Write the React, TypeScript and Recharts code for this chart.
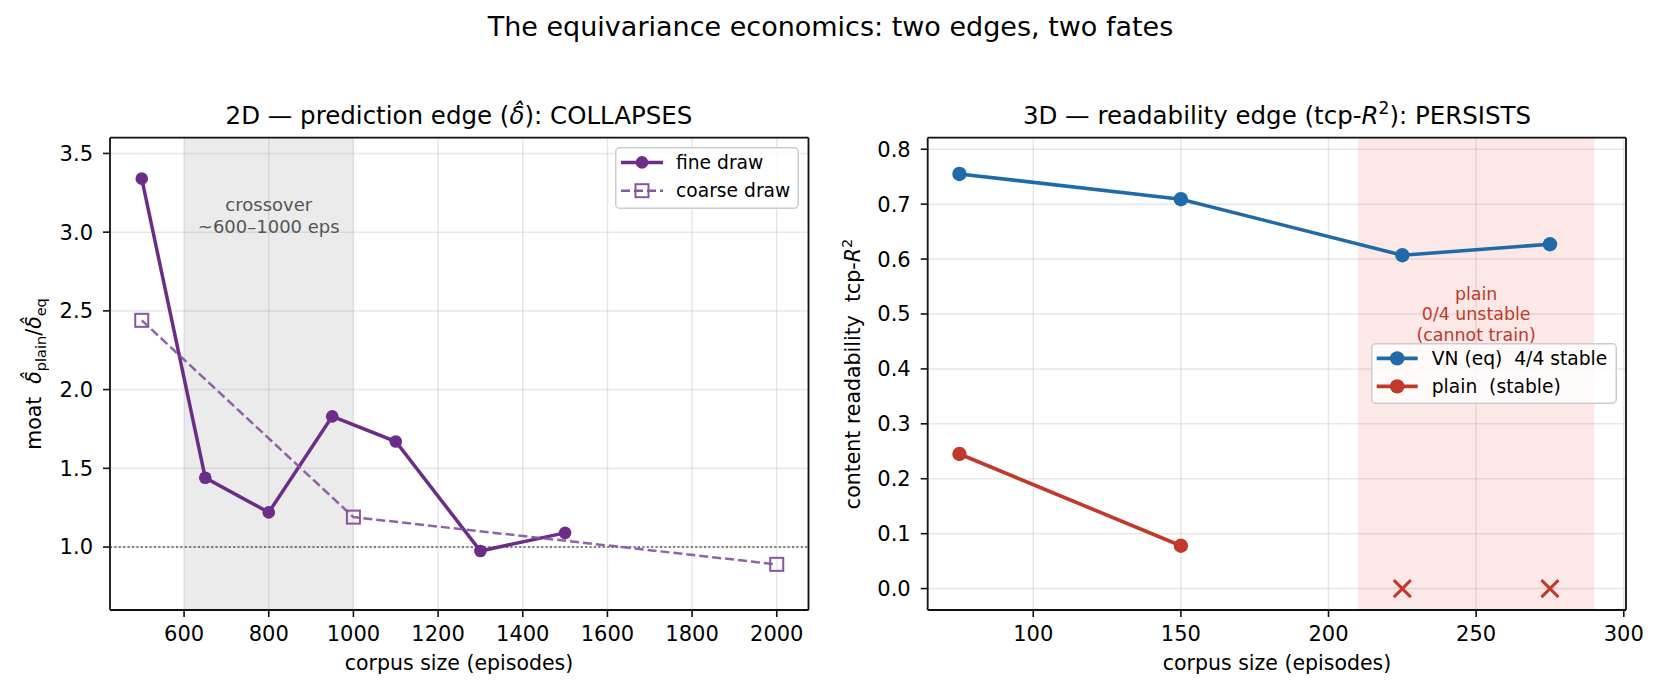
import React from 'react';
import {
  ComposedChart,
  Line,
  XAxis,
  YAxis,
  CartesianGrid,
  ReferenceArea,
  ReferenceLine,
  ReferenceDot,
  Legend,
} from 'recharts';

const FONT = '"DejaVu Sans", "Liberation Sans", sans-serif';

// ---- 2D panel: prediction edge ----
const fineSizes = [500, 650, 800, 950, 1100, 1300, 1500];
const fineMoat = [3.34, 1.44, 1.22, 1.83, 1.67, 0.975, 1.09];
const coarseSizes = [500, 1000, 2000];
const coarseMoat = [2.44, 1.19, 0.89];
const crossoverRange = [600, 1000];
const crossoverNoteAt = [800, 3.1];
const crossoverLines = ['crossover', '~600\u20131000 eps'];
const parityLevel = 1.0;
const xTicks2D = [600, 800, 1000, 1200, 1400, 1600, 1800, 2000];
const yTicks2D = [1.0, 1.5, 2.0, 2.5, 3.0, 3.5];
const xDomain2D = [425, 2075];
const yDomain2D = [0.6, 3.6];

// ---- 3D panel: readability edge ----
const vnSizes = [75, 150, 225, 275];
const vnR2 = [0.755, 0.709, 0.607, 0.627];
const plainSizes = [75, 150];
const plainR2 = [0.245, 0.078];
const unstableSizes = [225, 275];
const unstableR2 = [0, 0];
const unstableRange = [210, 290];
const unstableNoteAt = [250, 0.5];
const unstableLines = ['plain', '0/4 unstable', '(cannot train)'];
const xTicks3D = [100, 150, 200, 250, 300];
const yTicks3D = [0.0, 0.1, 0.2, 0.3, 0.4, 0.5, 0.6, 0.7, 0.8];
const xDomain3D = [64.25, 300.75];
const yDomain3D = [-0.039, 0.821];

const FINE = '#6b2d87';
const COARSE = '#8656a1';
const BLUE = '#1f6aa7';
const RED = '#c0392b';

const TICK_FS = 21;
const LABEL_FS = 20.5;
const LEGEND_FS = 18.7;
const NOTE_FS = 18;

const toPts = (xs: number[], ys: number[]) => xs.map((x, i) => ({ x, y: ys[i] }));

const fineData = toPts(fineSizes, fineMoat);
const coarseData = toPts(coarseSizes, coarseMoat);
const vnData = toPts(vnSizes, vnR2);
const plainData = toPts(plainSizes, plainR2);
const unstableData = toPts(unstableSizes, unstableR2);

const tickStyle = { fill: '#000', fontSize: TICK_FS, fontFamily: FONT };
const SPINE = '#111111';
const axisLineStyle = { stroke: SPINE, strokeWidth: 1.8 };
const tickLineStyle = { stroke: SPINE, strokeWidth: 1.6 };

const squareDot = (p: any) => (
  <rect
    key={`sq-${p.index}`}
    x={p.cx - 6.5}
    y={p.cy - 6.5}
    width={13}
    height={13}
    fill="none"
    stroke={COARSE}
    strokeWidth={2}
  />
);

const crossDot = (p: any) => (
  <g key={`x-${p.index}`}>
    <line x1={p.cx - 8.5} y1={p.cy - 8.5} x2={p.cx + 8.5} y2={p.cy + 8.5} stroke={RED} strokeWidth={3} />
    <line x1={p.cx - 8.5} y1={p.cy + 8.5} x2={p.cx + 8.5} y2={p.cy - 8.5} stroke={RED} strokeWidth={3} />
  </g>
);

const multiLineNote = (lines: string[], color: string, fontSize: number, firstOffset: number, step: number) =>
  (props: any) => {
    const vb = props.viewBox || {};
    const cx = (vb.x ?? 0) + (vb.width ?? 0) / 2;
    const cy = (vb.y ?? 0) + (vb.height ?? 0) / 2;
    return (
      <text textAnchor="middle" fill={color} fontSize={fontSize} fontFamily={FONT}>
        {lines.map((s, i) => (
          <tspan key={i} x={cx} y={cy + firstOffset + i * step}>
            {s}
          </tspan>
        ))}
      </text>
    );
  };

type LegendEntry = { label: string; color: string; kind: 'circle' | 'square'; dashed?: boolean; width: number; r: number };

const LegendBox = ({ w, h, entries, rowY, lineX, textX }: { w: number; h: number; entries: LegendEntry[]; rowY: number[]; lineX: [number, number]; textX: number }) => (
  <svg width={w} height={h} style={{ display: 'block', overflow: 'visible' }}>
    <rect x={0.75} y={0.75} width={w - 1.5} height={h - 1.5} rx={4} ry={4} fill="#ffffff" fillOpacity={0.82} stroke="#cccccc" strokeWidth={1.5} />
    {entries.map((e, i) => {
      const y = rowY[i];
      const mid = (lineX[0] + lineX[1]) / 2;
      return (
        <g key={e.label}>
          <line x1={lineX[0]} x2={lineX[1]} y1={y} y2={y} stroke={e.color} strokeWidth={e.width} strokeDasharray={e.dashed ? '9 4' : undefined} />
          {e.kind === 'circle' ? (
            <circle cx={mid} cy={y} r={e.r} fill={e.color} />
          ) : (
            <rect x={mid - 6.5} y={y - 6.5} width={13} height={13} fill="none" stroke={e.color} strokeWidth={2} />
          )}
          <text x={textX} y={y + 6.6} fontSize={LEGEND_FS} fontFamily={FONT} fill="#000" style={{ whiteSpace: 'pre' }}>
            {e.label}
          </text>
        </g>
      );
    })}
  </svg>
);

const legend2D: LegendEntry[] = [
  { label: 'fine draw', color: FINE, kind: 'circle', width: 3.5, r: 6.3 },
  { label: 'coarse draw', color: COARSE, kind: 'square', dashed: true, width: 2.5, r: 6 },
];
const legend3D: LegendEntry[] = [
  { label: 'VN (eq)  4/4 stable', color: BLUE, kind: 'circle', width: 3.6, r: 7.2 },
  { label: 'plain  (stable)', color: RED, kind: 'circle', width: 3.6, r: 7.2 },
];

function PredictionPanel() {
  return (
    <ComposedChart width={830} height={691} margin={{ top: 137.7, right: 21.5, bottom: 41, left: 0 }} style={{ fontFamily: FONT }}>
      <CartesianGrid stroke="#b0b0b0" strokeOpacity={0.3} strokeWidth={1.5} />
      <ReferenceArea x1={crossoverRange[0]} x2={crossoverRange[1]} fill="#808080" fillOpacity={0.16} stroke="none" ifOverflow="hidden" />
      <ReferenceLine y={parityLevel} stroke="#555" strokeWidth={1.6} strokeDasharray="2 2.4" />
      <XAxis
        dataKey="x"
        type="number"
        domain={xDomain2D}
        allowDataOverflow
        ticks={xTicks2D}
        interval={0}
        height={40}
        tick={tickStyle}
        tickSize={7}
        tickMargin={9}
        axisLine={axisLineStyle}
        tickLine={tickLineStyle}
      />
      <YAxis
        type="number"
        domain={yDomain2D}
        allowDataOverflow
        ticks={yTicks2D}
        interval={0}
        width={110}
        tick={tickStyle}
        tickSize={7}
        tickMargin={10}
        tickFormatter={(v: number) => v.toFixed(1)}
        axisLine={axisLineStyle}
        tickLine={tickLineStyle}
      />
      <ReferenceDot
        x={crossoverNoteAt[0]}
        y={crossoverNoteAt[1]}
        r={1}
        fill="none"
        stroke="none"
        label={{ content: multiLineNote(crossoverLines, '#555555', NOTE_FS, -5.6, 22) }}
      />
      <Line
        data={fineData}
        dataKey="y"
        name="fine draw"
        stroke={FINE}
        strokeWidth={3.5}
        dot={{ r: 6.3, fill: FINE, stroke: FINE, strokeWidth: 0 }}
        activeDot={false}
        isAnimationActive={false}
      />
      <Line
        data={coarseData}
        dataKey="y"
        name="coarse draw"
        stroke={COARSE}
        strokeOpacity={0.92}
        strokeWidth={2.5}
        strokeDasharray="9 4"
        dot={squareDot}
        activeDot={false}
        isAnimationActive={false}
      />
      {/* top and right spines */}
      <ReferenceLine y={yDomain2D[1]} stroke={SPINE} strokeWidth={1.8} />
      <ReferenceLine x={xDomain2D[1]} stroke={SPINE} strokeWidth={1.8} />
      <Legend
        layout="vertical"
        align="center"
        verticalAlign="middle"
        wrapperStyle={{ left: 615, top: 147.3, width: 184, height: 62, margin: 0, padding: 0 }}
        content={() => <LegendBox w={184} h={62} entries={legend2D} rowY={[15.4, 43.7]} lineX={[6, 48]} textX={61} />}
      />
    </ComposedChart>
  );
}

function ReadabilityPanel() {
  return (
    <ComposedChart width={831} height={691} margin={{ top: 137.7, right: 35, bottom: 41, left: 0 }} style={{ fontFamily: FONT }}>
      <CartesianGrid stroke="#b0b0b0" strokeOpacity={0.3} strokeWidth={1.5} />
      <ReferenceArea x1={unstableRange[0]} x2={unstableRange[1]} fill="#e74c3c" fillOpacity={0.13} stroke="none" ifOverflow="hidden" />
      <XAxis
        dataKey="x"
        type="number"
        domain={xDomain3D}
        allowDataOverflow
        ticks={xTicks3D}
        interval={0}
        height={40}
        tick={tickStyle}
        tickSize={7}
        tickMargin={9}
        axisLine={axisLineStyle}
        tickLine={tickLineStyle}
      />
      <YAxis
        type="number"
        domain={yDomain3D}
        allowDataOverflow
        ticks={yTicks3D}
        interval={0}
        width={97.7}
        tick={tickStyle}
        tickSize={7}
        tickMargin={10}
        tickFormatter={(v: number) => v.toFixed(1)}
        axisLine={axisLineStyle}
        tickLine={tickLineStyle}
      />
      <ReferenceDot
        x={unstableNoteAt[0]}
        y={unstableNoteAt[1]}
        r={1}
        fill="none"
        stroke="none"
        label={{ content: multiLineNote(unstableLines, RED, 17.4, -14.4, 20.6) }}
      />
      <Line
        data={vnData}
        dataKey="y"
        name="VN (eq)  4/4 stable"
        stroke={BLUE}
        strokeWidth={3.6}
        dot={{ r: 7.2, fill: BLUE, stroke: BLUE, strokeWidth: 0 }}
        activeDot={false}
        isAnimationActive={false}
      />
      <Line
        data={plainData}
        dataKey="y"
        name="plain  (stable)"
        stroke={RED}
        strokeWidth={3.6}
        dot={{ r: 7.2, fill: RED, stroke: RED, strokeWidth: 0 }}
        activeDot={false}
        isAnimationActive={false}
      />
      <Line
        data={unstableData}
        dataKey="y"
        name="plain unstable"
        stroke="none"
        legendType="none"
        dot={crossDot}
        activeDot={false}
        isAnimationActive={false}
      />
      {/* top and right spines */}
      <ReferenceLine y={yDomain3D[1]} stroke={SPINE} strokeWidth={1.8} />
      <ReferenceLine x={xDomain3D[1]} stroke={SPINE} strokeWidth={1.8} />
      <Legend
        layout="vertical"
        align="center"
        verticalAlign="middle"
        wrapperStyle={{ left: 541, top: 343.3, width: 246, height: 61, margin: 0, padding: 0 }}
        content={() => <LegendBox w={246} h={61} entries={legend3D} rowY={[15.4, 43.4]} lineX={[5.7, 46.7]} textX={60.7} />}
      />
    </ComposedChart>
  );
}

export default function App() {
  const sub = 14.5;
  return (
    <div style={{ position: 'absolute', left: 0, top: 0, width: 1661, height: 691, background: '#ffffff', fontFamily: FONT, overflow: 'hidden' }}>
      <div style={{ position: 'absolute', left: 0, top: 0 }}>
        <PredictionPanel />
      </div>
      <div style={{ position: 'absolute', left: 830, top: 0 }}>
        <ReadabilityPanel />
      </div>
      <svg width={1661} height={691} style={{ position: 'absolute', left: 0, top: 0, pointerEvents: 'none' }} fontFamily={FONT}>
        <text x={830.5} y={36} textAnchor="middle" fontSize={27} fill="#000">
          The equivariance economics: two edges, two fates
        </text>

        <text x={459} y={124} textAnchor="middle" fontSize={24.5} fill="#000" style={{ whiteSpace: 'pre' }}>
          <tspan>2D — prediction edge (</tspan>
          <tspan fontStyle="italic">{'\u03b4\u0302'}</tspan>
          <tspan>): COLLAPSES</tspan>
        </text>
        <text x={1277} y={124} textAnchor="middle" fontSize={24.5} fill="#000" style={{ whiteSpace: 'pre' }}>
          <tspan>3D — readability edge (tcp-</tspan>
          <tspan fontStyle="italic">R</tspan>
          <tspan fontSize={17} dy={-10}>2</tspan>
          <tspan dy={10}>): PERSISTS</tspan>
        </text>

        <text x={459} y={670} textAnchor="middle" fontSize={LABEL_FS} fill="#000">corpus size (episodes)</text>
        <text x={1277} y={670} textAnchor="middle" fontSize={LABEL_FS} fill="#000">corpus size (episodes)</text>

        <text transform="translate(41,374) rotate(-90)" textAnchor="middle" fontSize={LABEL_FS} fill="#000" style={{ whiteSpace: 'pre' }}>
          <tspan>moat  </tspan>
          <tspan fontStyle="italic">{'\u03b4\u0302'}</tspan>
          <tspan fontSize={sub} dy={4.5}>plain</tspan>
          <tspan dy={-4.5}>/</tspan>
          <tspan fontStyle="italic">{'\u03b4\u0302'}</tspan>
          <tspan fontSize={sub} dy={4.5}>eq</tspan>
        </text>
        <text transform="translate(860,374) rotate(-90)" textAnchor="middle" fontSize={LABEL_FS} fill="#000" style={{ whiteSpace: 'pre' }}>
          <tspan>content readability  tcp-</tspan>
          <tspan fontStyle="italic">R</tspan>
          <tspan fontSize={sub} dy={-8.5}>2</tspan>
        </text>
      </svg>
    </div>
  );
}
